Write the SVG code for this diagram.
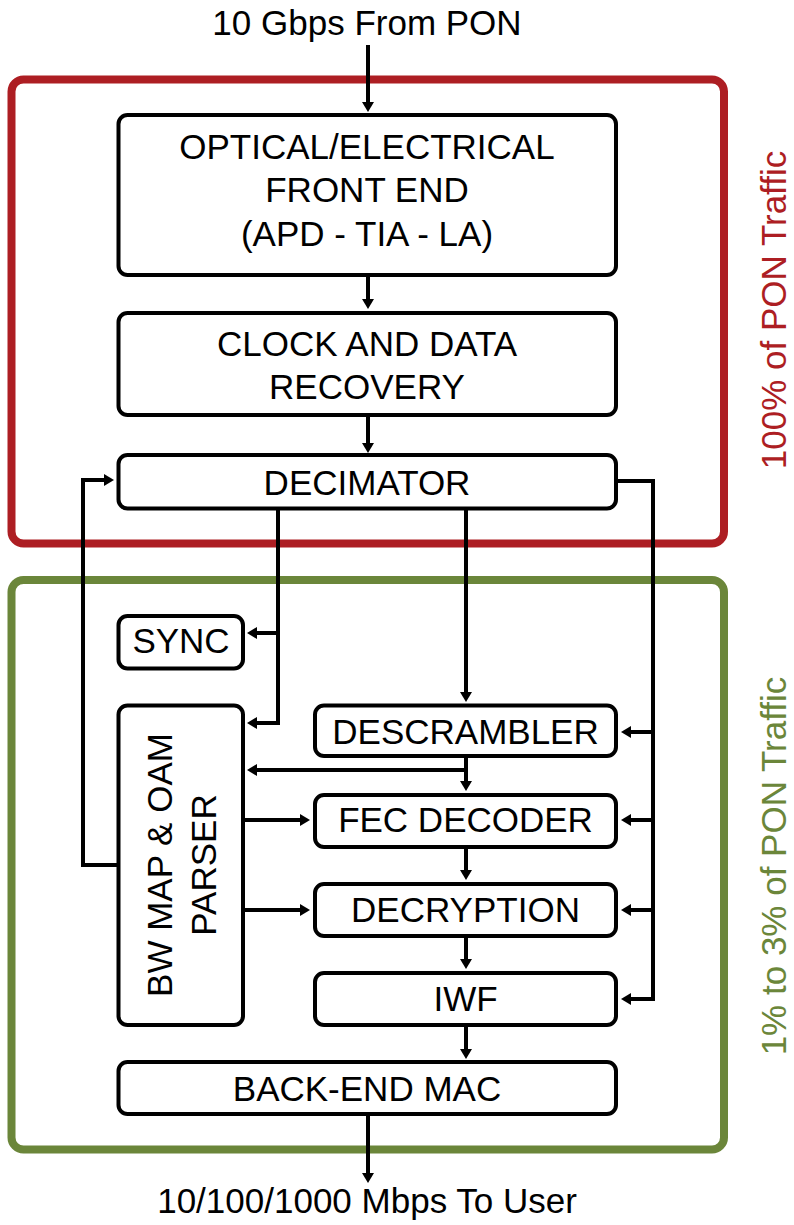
<svg xmlns="http://www.w3.org/2000/svg" width="794" height="1225" viewBox="0 0 794 1225">
<style>
text{font-family:"Liberation Sans",Arial,sans-serif;font-size:35px;fill:#000;text-anchor:middle}
.box{fill:#fff;stroke:#000;stroke-width:4}
.con{fill:none;stroke:#000;stroke-width:4;marker-end:url(#ah)}
.con2{fill:none;stroke:#000;stroke-width:4}
.red{fill:none;stroke:#ad1e23;stroke-width:8}
.green{fill:none;stroke:#6b863a;stroke-width:8}
</style>
<defs>
<marker id="ah" viewBox="0 0 10 12" refX="2" refY="6" markerWidth="10" markerHeight="12" markerUnits="userSpaceOnUse" orient="auto">
<path d="M0,0 L10,6 L0,12 z" fill="#000"/>
</marker>
</defs>
<rect x="0" y="0" width="794" height="1225" fill="#fff"/>
<g id="region-100">
<rect class="red" x="11.5" y="79.5" width="712.5" height="464" rx="12"/>
<text transform="translate(786,310) rotate(-90)" style="fill:#ad1e23">100% of PON Traffic</text>
</g>
<g id="region-1to3">
<rect class="green" x="11.5" y="580" width="712.5" height="569.5" rx="12"/>
<text transform="translate(786,866) rotate(-90)" style="fill:#6b863a">1% to 3% of PON Traffic</text>
</g>
<g id="connectors">
<path class="con" d="M368,45 V104"/>
<path class="con" d="M368,277 V301"/>
<path class="con" d="M368,417 V445"/>
<path class="con" d="M466,510 V694"/>
<path class="con" d="M278,510 V723 H255"/>
<path class="con" d="M278,633 H255"/>
<path class="con" d="M618,481 H653 V999 H629"/>
<path class="con" d="M653,732 H629"/>
<path class="con" d="M653,820 H629"/>
<path class="con" d="M653,910 H629"/>
<path class="con" d="M120,865 H83 V480 H106"/>
<path class="con" d="M466,758 V783"/>
<path class="con" d="M466,770 H255"/>
<path class="con" d="M245,820 H302"/>
<path class="con" d="M245,910 H302"/>
<path class="con" d="M466,849 V872"/>
<path class="con" d="M466,938 V961"/>
<path class="con" d="M466,1027 V1051"/>
<path class="con" d="M368,1116 V1175"/>
</g>
<g id="label-in"><text x="367" y="35">10 Gbps From PON</text></g>
<g id="label-out"><text x="367" y="1213">10/100/1000 Mbps To User</text></g>
<g id="optical">
<rect class="box" x="118.5" y="115" width="497.5" height="160" rx="9"/>
<text x="367" y="159">OPTICAL/ELECTRICAL</text>
<text x="367" y="202">FRONT END</text>
<text x="367" y="246">(APD - TIA - LA)</text>
</g>
<g id="cdr">
<rect class="box" x="118.5" y="313" width="497.5" height="102" rx="9"/>
<text x="367" y="356">CLOCK AND DATA</text>
<text x="367" y="399">RECOVERY</text>
</g>
<g id="decimator">
<rect class="box" x="118.5" y="455" width="497.5" height="53.5" rx="9"/>
<text x="367" y="495">DECIMATOR</text>
</g>
<g id="sync">
<rect class="box" x="118.5" y="616" width="124.5" height="52.5" rx="9"/>
<text x="181" y="653">SYNC</text>
</g>
<g id="parser">
<rect class="box" x="118.5" y="705.5" width="124.5" height="319.5" rx="9"/>
<text transform="translate(172,865) rotate(-90)">BW MAP &amp; OAM</text>
<text transform="translate(216,865) rotate(-90)">PARSER</text>
</g>
<g id="descrambler">
<rect class="box" x="315" y="705.5" width="301" height="50.5" rx="9"/>
<text x="465.5" y="744">DESCRAMBLER</text>
</g>
<g id="fec">
<rect class="box" x="315" y="795" width="301" height="52" rx="9"/>
<text x="465.5" y="832">FEC DECODER</text>
</g>
<g id="decryption">
<rect class="box" x="315" y="884" width="301" height="52" rx="9"/>
<text x="465.5" y="922">DECRYPTION</text>
</g>
<g id="iwf">
<rect class="box" x="315" y="973" width="301" height="52" rx="9"/>
<text x="465.5" y="1011">IWF</text>
</g>
<g id="backend">
<rect class="box" x="118.5" y="1062" width="497.5" height="52" rx="9"/>
<text x="367" y="1101">BACK-END MAC</text>
</g>
</svg>
